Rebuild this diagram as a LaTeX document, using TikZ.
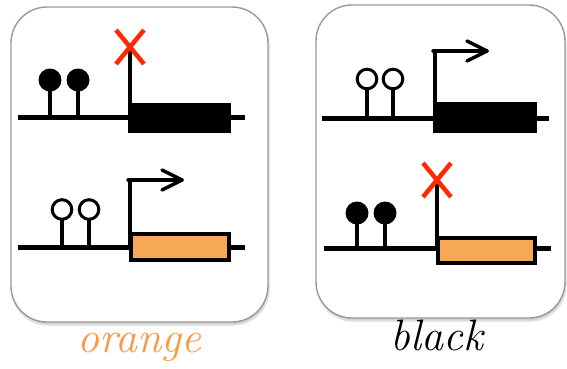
\documentclass[tikz,border=0pt]{standalone}
\usetikzlibrary{calc,shadows.blur}
\definecolor{geneorange}{HTML}{F7A857}
\definecolor{labelorange}{HTML}{F79A45}
\definecolor{blockred}{HTML}{FF2A00}
\definecolor{panelgray}{HTML}{9A9A9A}
\tikzset{
  panel/.style={draw=panelgray, line width=1.4pt, fill=white, rounded corners=36pt,
    blur shadow={shadow xshift=1pt, shadow yshift=-3pt, shadow opacity=20, shadow blur steps=6}},
  dna/.style={line width=5pt},
  stick/.style={line width=3.6pt},
  onhead/.style={fill=black},
  offhead/.style={draw=black, fill=white, line width=3pt},
  promoter/.style={line width=4pt},
  bendarrow/.style={line width=3.4pt, line cap=round, line join=round},
  cross/.style={draw=blockred, line width=4.5pt},
  blackgene/.style={fill=black},
  orangegene/.style={draw=black, fill=geneorange, line width=4.5pt},
  tag/.style={font=\itshape\fontsize{44}{44}\selectfont, anchor=base, inner sep=0pt}
}
\begin{document}
\begin{tikzpicture}[x=1pt, y=-1pt]
\useasboundingbox (0,0) rectangle (567,368);

% panel outlines
\draw[panel] (11,7) rectangle (268,322);
\draw[panel] (316,5) rectangle (565,318);

% ---- left panel, upper construct: bound operator, promoter off, black gene ----
\draw[dna] (18,117) -- (245,117);
\fill[blackgene] (128,103) rectangle (231,133);
\draw[stick] (50,117) -- (50,80);
\draw[stick] (78,117) -- (78,80);
\fill[onhead] (50,80) circle (11.5);
\fill[onhead] (78,80) circle (11.5);
\coordinate (pLA) at (130,117);
\coordinate (xLA) at (130,47);
\draw[promoter] (pLA) -- (xLA);
\draw[cross] ($(xLA)+(-14,-17)$) -- ($(xLA)+(14,17)$);
\draw[cross] ($(xLA)+(14,-17)$) -- ($(xLA)+(-14,17)$);

% ---- left panel, lower construct: free operator, promoter on, orange gene ----
\draw[dna] (18,247) -- (245,247);
\draw[orangegene] (131.2,234.2) rectangle (228.8,259.8);
\draw[stick] (62,247) -- (62,220);
\draw[stick] (89,247) -- (89,220);
\draw[offhead] (62,209.5) circle (9.8);
\draw[offhead] (89,209.5) circle (9.8);
\coordinate (pLB) at (130,247);
\coordinate (tLB) at (182,180);
\draw[promoter] (pLB) -- (130,180);
\draw[bendarrow] (128,180) -- (tLB);
\draw[bendarrow] ($(tLB)+(-20,-10)$) -- (tLB) -- ($(tLB)+(-20,10)$);

% ---- right panel, upper construct: free operator, promoter on, black gene ----
\draw[dna] (322,118) -- (549,118);
\fill[blackgene] (433,102) rectangle (537,133);
\draw[stick] (367,118) -- (367,89);
\draw[stick] (393,118) -- (393,89);
\draw[offhead] (367,79) circle (9.8);
\draw[offhead] (393,79) circle (9.8);
\coordinate (pRA) at (435,118);
\coordinate (tRA) at (487,51);
\draw[promoter] (pRA) -- (435,50);
\draw[bendarrow] (433,51) -- (tRA);
\draw[bendarrow] ($(tRA)+(-20,-10)$) -- (tRA) -- ($(tRA)+(-20,10)$);

% ---- right panel, lower construct: bound operator, promoter off, orange gene ----
\draw[dna] (324,248) -- (551,248);
\draw[orangegene] (438.2,238.2) rectangle (534.8,262.8);
\draw[stick] (357,248) -- (357,213);
\draw[stick] (385,248) -- (385,213);
\fill[onhead] (357,213) circle (11.5);
\fill[onhead] (385,213) circle (11.5);
\coordinate (pRB) at (437,248);
\coordinate (xRB) at (437,180);
\draw[promoter] (pRB) -- (xRB);
\draw[cross] ($(xRB)+(-14,-17)$) -- ($(xRB)+(14,17)$);
\draw[cross] ($(xRB)+(14,-17)$) -- ($(xRB)+(-14,17)$);

% labels
\node[tag, text=labelorange] (lorange) at (139,352) {orange};
\node[tag, text=black] (lblack) at (437,350) {black};
\end{tikzpicture}
\end{document}
